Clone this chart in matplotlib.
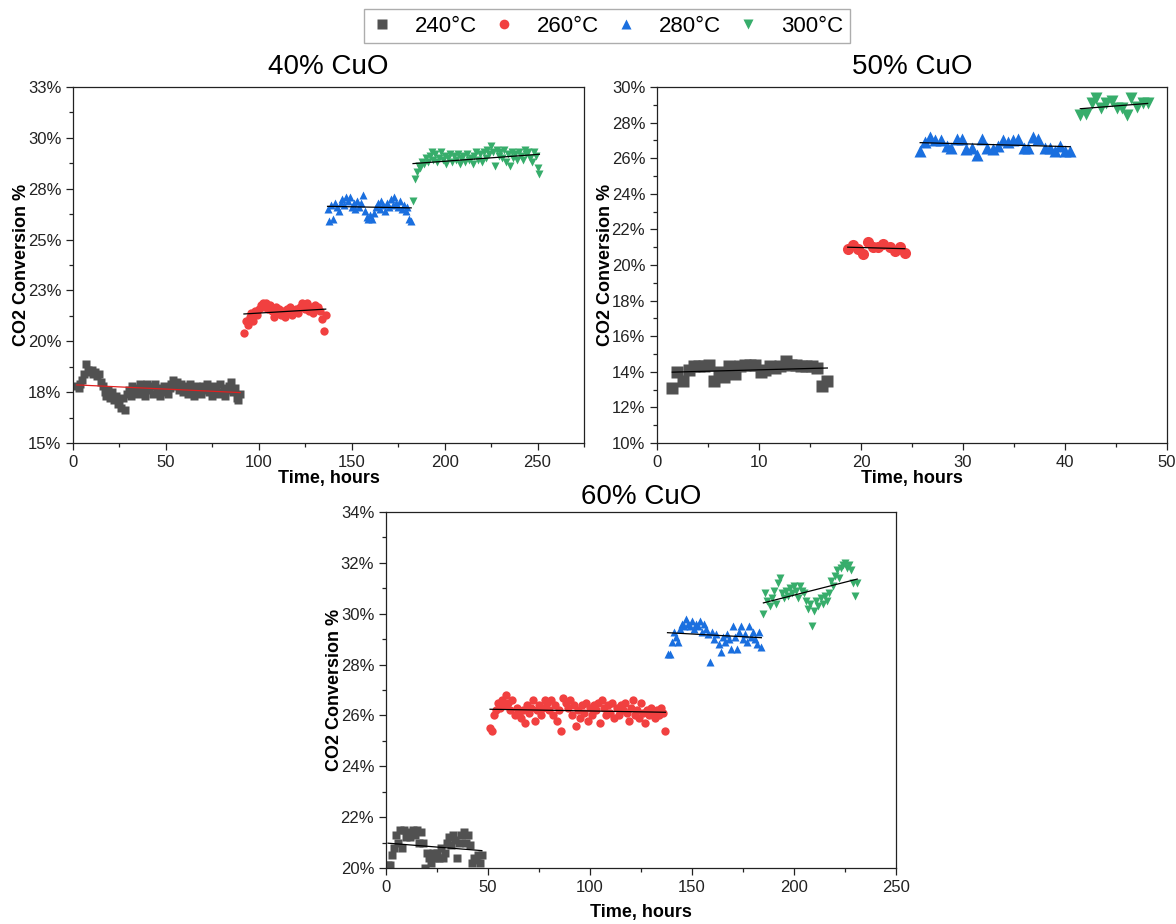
import numpy as np
import matplotlib
matplotlib.use("Agg")
import matplotlib.pyplot as plt
from matplotlib.ticker import MultipleLocator, FuncFormatter
from matplotlib.lines import Line2D

plt.rcParams['font.family'] = ['Liberation Sans', 'DejaVu Sans']

temps = ['240°C', '260°C', '280°C', '300°C']
colors = ['#515151', '#F14040', '#1A6FDF', '#37AD6B']
markers = ['s', 'o', '^', 'v']

# ---- 40% CuO (hourly readings, first hour of each step given) ----
start40 = [2, 92, 137, 183]
conv40_240 = [17.8, 17.7, 17.9, 18.1, 18.4, 18.9, 18.6, 18.5, 18.6, 18.4,
              18.5, 18.3, 18.4, 18.0, 17.8, 17.5, 17.3, 17.6, 17.2, 17.5,
              17.1, 17.3, 16.9, 17.0, 16.7, 17.2, 16.6, 17.4, 17.6, 17.3,
              17.8, 17.5, 17.7, 17.4, 17.9, 17.6, 17.8, 17.3, 17.9, 17.6,
              17.8, 17.4, 17.9, 17.5, 17.7, 17.3, 17.6, 17.8, 17.5, 17.4,
              17.7, 17.9, 18.1, 17.8, 18.0, 17.6, 17.9, 17.5, 17.8, 17.7,
              17.4, 17.9, 17.6, 17.3, 17.8, 17.5, 17.7, 17.4, 17.8, 17.6,
              17.9, 17.5, 17.7, 17.3, 17.8, 17.6, 17.4, 17.9, 17.5, 17.7,
              17.3, 17.6, 17.8, 18.0, 17.5, 17.7, 17.2, 17.1, 17.4]
conv40_260 = [20.4, 21.0, 20.8, 21.2, 21.4, 21.0, 21.5, 21.3, 21.6, 21.8,
              21.9, 21.7, 21.9, 21.6, 21.8, 21.5, 21.2, 21.7, 21.4, 21.6,
              21.3, 21.5, 21.2, 21.6, 21.4, 21.7, 21.3, 21.5, 21.6, 21.4,
              21.7, 21.9, 21.8, 21.6, 21.9, 21.5, 21.7, 21.4, 21.8, 21.6,
              21.7, 21.5, 21.1, 20.5, 21.3]
conv40_280 = [26.5, 25.9, 26.7, 26.0, 26.8, 26.6, 26.4, 26.8, 27.0, 26.7,
              27.1, 26.9, 27.1, 26.6, 26.8, 26.5, 26.9, 26.6, 26.8, 27.2,
              26.4, 26.1, 26.0, 26.2, 26.0, 26.3, 26.6, 26.8, 26.5, 26.9,
              26.7, 26.4, 26.8, 26.6, 27.0, 26.7, 27.1, 26.8, 26.6, 26.9,
              26.5, 26.7, 26.4, 26.6, 26.0, 25.9]
conv40_300 = [26.9, 28.0, 28.3, 28.6, 28.5, 28.8, 28.7, 29.0, 28.8, 29.1,
              29.3, 28.9, 29.2, 28.8, 29.0, 29.3, 28.9, 29.1, 28.7, 29.0,
              29.2, 28.8, 29.1, 28.9, 29.2, 28.7, 29.0, 29.1, 28.8, 29.2,
              28.9, 29.0, 28.7, 29.1, 29.3, 28.9, 29.2, 28.8, 29.3, 29.0,
              29.4, 29.2, 29.6, 29.3, 28.6, 29.4, 29.1, 29.3, 29.0, 29.4,
              28.8, 29.2, 28.6, 29.3, 29.0, 29.2, 28.9, 29.3, 29.1, 28.9,
              29.4, 29.2, 29.3, 29.0, 28.8, 29.3, 29.1, 28.5, 28.2]

# ---- 50% CuO ----
time50_240 = [1.5, 2.0, 2.5, 3.1, 3.6, 4.1, 4.6, 5.1, 5.6, 6.1, 6.6, 7.1, 7.6, 8.1,
              8.6, 9.1, 9.6, 10.2, 10.6, 11.1, 11.6, 12.1, 12.6, 13.1, 13.6, 14.1,
              14.6, 15.2, 15.7, 16.2, 16.7]
conv50_240 = [13.1, 14.0, 13.5, 14.1, 14.3, 14.3, 14.3, 14.4, 13.5, 14.0, 13.7, 14.3,
              13.9, 14.3, 14.4, 14.4, 14.4, 14.0, 14.1, 14.3, 14.2, 14.3, 14.6, 14.4,
              14.4, 14.3, 14.3, 14.3, 14.2, 13.2, 13.5]
time50_260 = [18.7, 19.2, 19.7, 20.2, 20.7, 21.2, 21.7, 22.2, 22.8, 23.3, 23.8, 24.3]
conv50_260 = [20.9, 21.1, 20.9, 20.6, 21.3, 21.0, 21.0, 21.2, 21.0, 20.8, 21.0, 20.7]
time50_280 = [25.8, 26.3, 26.8, 27.3, 27.8, 28.4, 28.8, 29.4, 29.9, 30.3, 30.9, 31.4,
              31.9, 32.4, 32.9, 33.4, 33.9, 34.4, 34.9, 35.4, 36.0, 36.4, 36.9, 37.4,
              38.0, 38.5, 39.0, 39.5, 40.0, 40.5]
conv50_280 = [26.4, 26.9, 27.2, 27.0, 27.0, 26.7, 26.6, 27.1, 27.1, 26.5, 26.6, 26.2,
              27.1, 26.6, 26.5, 26.7, 27.0, 26.9, 27.0, 27.1, 26.6, 26.6, 27.2, 27.1,
              26.6, 26.6, 26.4, 26.7, 26.4, 26.4]
time50_300 = [41.5, 42.1, 42.6, 43.0, 43.5, 44.0, 44.6, 45.1, 45.6, 46.1, 46.5, 47.1,
              47.6, 48.1]
conv50_300 = [28.4, 28.5, 29.1, 29.4, 28.8, 29.1, 29.2, 28.8, 28.8, 28.4, 29.4, 28.9,
              29.1, 29.1]

# ---- 60% CuO (hourly readings) ----
start60 = [1, 51, 138, 185]
conv60_240 = [20.1, 20.1, 20.5, 20.8, 21.3, 21.0, 21.5, 20.8, 21.5, 21.2,
              21.4, 21.2, 21.5, 21.3, 21.5, 21.0, 21.4, 21.0, 20.0, 20.6,
              20.4, 20.2, 20.6, 20.4, 20.6, 20.4, 20.8, 20.4, 20.6, 21.0,
              21.2, 20.9, 21.3, 21.1, 20.4, 21.0, 21.3, 21.4, 21.0, 21.3,
              20.9, 20.2, 20.4, 20.3, 20.5, 20.2, 20.5]
conv60_260 = [25.5, 25.4, 26.0, 26.2, 26.5, 26.3, 26.6, 26.4, 26.8, 26.5,
              26.2, 26.6, 26.0, 26.3, 26.1, 25.9, 26.2, 25.7, 26.4, 26.1,
              26.3, 26.6, 25.8, 26.2, 26.4, 26.0, 26.3, 26.6, 26.5, 26.2,
              26.6, 26.0, 26.4, 25.8, 26.2, 25.4, 26.7, 26.5, 26.3, 26.6,
              26.0, 26.4, 25.6, 26.2, 25.9, 26.4, 26.1, 26.5, 25.8, 26.3,
              26.0, 26.4, 26.2, 26.5, 25.7, 26.6, 26.3, 26.0, 26.4, 26.1,
              26.5, 25.9, 26.3, 26.0, 26.4, 26.2, 26.5, 26.1, 25.8, 26.3,
              26.6, 26.0, 26.2, 25.9, 26.5, 26.1, 25.7, 26.2, 26.0, 26.3,
              26.1, 25.9, 26.2, 26.0, 26.3, 26.1, 25.4]
conv60_280 = [28.4, 28.4, 28.9, 29.3, 29.1, 28.9, 29.4, 29.6, 29.5, 29.8,
              29.6, 29.5, 29.7, 29.4, 29.6, 29.5, 29.7, 29.3, 29.6, 29.4,
              29.2, 28.1, 29.3, 29.0, 29.2, 28.8, 28.5, 29.1, 28.9, 29.2,
              29.0, 28.6, 29.5, 29.1, 28.6, 29.3, 29.5, 29.0, 29.2, 28.9,
              29.5, 29.1, 29.3, 29.0, 28.8, 29.3, 28.7]
conv60_300 = [30.0, 30.8, 30.5, 30.3, 30.6, 30.9, 30.4, 31.2, 31.4, 30.8,
              30.6, 30.9, 30.7, 31.0, 30.8, 31.1, 30.9, 30.6, 31.1, 30.9,
              30.8, 30.5, 30.2, 30.4, 29.5, 30.1, 30.5, 30.3, 30.6, 30.4,
              30.7, 30.5, 30.8, 31.3, 31.1, 31.5, 31.7, 31.4, 31.8, 31.9,
              32.0, 31.8, 31.9, 31.7, 31.2, 30.7, 31.2]


def hourly(first, values):
    return first + np.arange(len(values))


def draw_panel(ax, series, fit_colors, ms):
    for (t, y), c, m, fc in zip(series, colors, markers, fit_colors):
        t = np.asarray(t, float)
        y = np.asarray(y, float)
        ax.plot(t, y, ls='none', marker=m, ms=ms, color=c, mec='none')
        k, b = np.polyfit(t, y, 1)
        ax.plot([t[0], t[-1]], [k * t[0] + b, k * t[-1] + b], color=fc, lw=0.9)
    ax.tick_params(which='both', direction='out', top=False, right=False,
                   labelsize=12, width=0.9, colors='#222222')
    ax.tick_params(which='major', length=5)
    ax.tick_params(which='minor', length=3)
    for s in ax.spines.values():
        s.set_linewidth(0.9)
        s.set_color('#222222')
    ax.set_ylabel('CO2 Conversion %', fontsize=13, fontweight='bold')
    ax.set_xlabel('Time, hours', fontsize=13, fontweight='bold')


def pct(v, pos):
    # half-up rounding like the original labels
    return f"{int(np.floor(v + 0.5 + 1e-9))}%"


W, H = 1176, 924
fig = plt.figure(figsize=(W / 100, H / 100), dpi=100)

ax1 = fig.add_axes([73 / W, 1 - 443 / H, 511 / W, 356 / H])
ax2 = fig.add_axes([657 / W, 1 - 443 / H, 510 / W, 356 / H])
ax3 = fig.add_axes([386 / W, 1 - 868 / H, 510 / W, 356 / H])

series40 = [(hourly(start40[0], conv40_240), conv40_240),
            (hourly(start40[1], conv40_260), conv40_260),
            (hourly(start40[2], conv40_280), conv40_280),
            (hourly(start40[3], conv40_300), conv40_300)]
draw_panel(ax1, series40, ['#E02020', 'black', 'black', 'black'], 6)
ax1.set_xlim(0, 275)
ax1.set_ylim(15, 32.5)
ax1.xaxis.set_major_locator(MultipleLocator(50))
ax1.xaxis.set_minor_locator(MultipleLocator(25))
ax1.yaxis.set_major_locator(MultipleLocator(2.5))
ax1.yaxis.set_minor_locator(MultipleLocator(1.25))
ax1.yaxis.set_major_formatter(FuncFormatter(pct))
ax1.set_title('40% CuO', fontsize=20, pad=9)

series50 = [(time50_240, conv50_240), (time50_260, conv50_260),
            (time50_280, conv50_280), (time50_300, conv50_300)]
draw_panel(ax2, series50, ['black'] * 4, 8)
ax2.set_xlim(0, 50)
ax2.set_ylim(10, 30)
ax2.xaxis.set_major_locator(MultipleLocator(10))
ax2.xaxis.set_minor_locator(MultipleLocator(5))
ax2.yaxis.set_major_locator(MultipleLocator(2))
ax2.yaxis.set_minor_locator(MultipleLocator(1))
ax2.yaxis.set_major_formatter(FuncFormatter(pct))
ax2.set_title('50% CuO', fontsize=20, pad=9)

series60 = [(hourly(start60[0], conv60_240), conv60_240),
            (hourly(start60[1], conv60_260), conv60_260),
            (hourly(start60[2], conv60_280), conv60_280),
            (hourly(start60[3], conv60_300), conv60_300)]
draw_panel(ax3, series60, ['black'] * 4, 6)
ax3.set_xlim(0, 250)
ax3.set_ylim(20, 34)
ax3.xaxis.set_major_locator(MultipleLocator(50))
ax3.xaxis.set_minor_locator(MultipleLocator(25))
ax3.yaxis.set_major_locator(MultipleLocator(2))
ax3.yaxis.set_minor_locator(MultipleLocator(1))
ax3.yaxis.set_major_formatter(FuncFormatter(pct))
ax3.set_title('60% CuO', fontsize=20, pad=6)

for ax in (ax1, ax2, ax3):
    ax.yaxis.set_label_coords(-0.085, 0.5)
ax1.xaxis.set_label_coords(0.5, -0.075)
ax2.xaxis.set_label_coords(0.5, -0.075)
ax3.xaxis.set_label_coords(0.5, -0.10)

handles = [Line2D([], [], ls='none', marker=m, color=c, mec='none', ms=7)
           for m, c in zip(markers, colors)]
leg = fig.legend(handles, temps, loc='center', ncol=4,
                 bbox_to_anchor=(607 / W, 1 - 26 / H), fontsize=16,
                 handlelength=1.0, handletextpad=1.0, columnspacing=0.7,
                 fancybox=False, borderpad=0.3, borderaxespad=0)
leg.get_frame().set_edgecolor('#999999')
leg.get_frame().set_linewidth(1.0)

fig.savefig('out.png', dpi=100)
